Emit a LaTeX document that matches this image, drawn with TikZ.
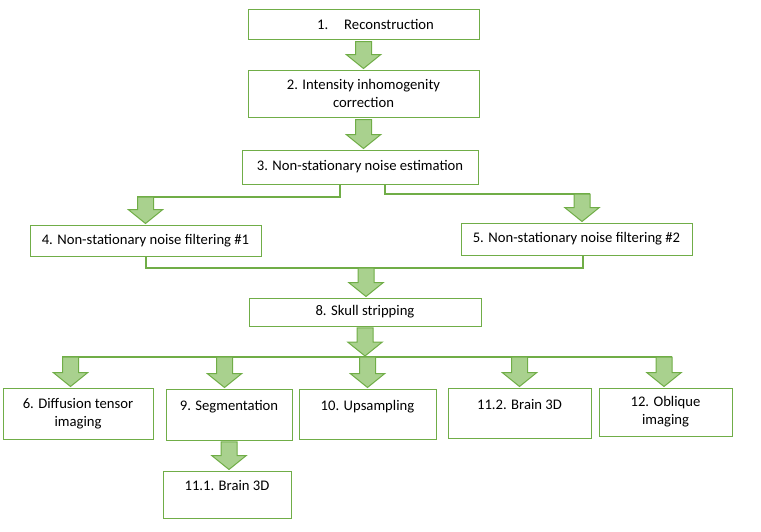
\documentclass[tikz,border=0pt]{standalone}
\usepackage{fontspec}
\setmainfont{Carlito}
\usetikzlibrary{calc}
\definecolor{wdGreen}{HTML}{70AD47}
\definecolor{wdLight}{HTML}{A9D18E}
\tikzset{
  stage/.style={draw=wdGreen,line width=.75pt,fill=white,align=center,inner sep=2pt,
    text=black,font=\fontsize{11}{13.5}\selectfont},
  wire/.style={draw=wdGreen,line width=1.5pt},
  fatarrow/.style={draw=wdGreen,line width=.75pt,fill=wdLight,line join=miter},
}
\newcommand{\bigarrow}[2]{%
  \path[fatarrow] let \p1=#1, \p2=#2 in
    (\x1-6pt,\y1) -- (\x1+6pt,\y1) -- (\x1+6pt,\y2+11.25pt) -- (\x1+13pt,\y2+11.25pt)
    -- (\x1,\y2+.75pt) -- (\x1-13pt,\y2+11.25pt) -- (\x1-6pt,\y2+11.25pt) -- cycle;}

\begin{document}
\begin{tikzpicture}[x=.75pt,y=-.75pt]
  \useasboundingbox (0,0) rectangle (761,532);
  \node[stage,minimum width=173.25pt,minimum height=22.5pt] (recon) at (363.5,24)
    {\hspace*{18pt}1.\hspace{12pt}Reconstruction};
  \node[stage,minimum width=173.25pt,minimum height=35.25pt] (inhom) at (363.5,93.5)
    {2. Intensity inhomogenity\\correction};
  \node[stage,minimum width=177pt,minimum height=25.5pt] (estim) at (360,167)
    {3. Non-stationary noise estimation};
  \node[stage,minimum width=173.25pt,minimum height=23.25pt] (filtA) at (145.5,240.5)
    {4. Non-stationary noise filtering \#1};
  \node[stage,minimum width=173.25pt,minimum height=24pt] (filtB) at (576.5,239)
    {5. Non-stationary noise filtering \#2};
  \node[stage,minimum width=174pt,minimum height=21pt] (skull) at (365,312)
    {8. Skull stripping};
  \node[stage,minimum width=112.5pt,minimum height=38.25pt] (dti) at (78,413.5)
    {6. Diffusion tensor\\imaging};
  \node[stage,minimum width=94.5pt,minimum height=38.25pt] (segm) at (229,414.5)
    {9. Segmentation\\\mbox{}};
  \node[stage,minimum width=102.75pt,minimum height=37.5pt] (upsam) at (367.5,414)
    {10. Upsampling\\\mbox{}};
  \node[stage,minimum width=107.25pt,minimum height=37.5pt] (brainB) at (519.5,413)
    {11.2. Brain 3D\\\mbox{}};
  \node[stage,minimum width=99.75pt,minimum height=36pt] (obliq) at (665.5,412)
    {12. Oblique\\imaging};
  \node[stage,minimum width=96pt,minimum height=35.25pt] (brainA) at (227,494.5)
    {11.1. Brain 3D\\\mbox{}};
  \coordinate (tapA) at (137,197);
  \coordinate (tapB) at (590,194);
  \coordinate (dropB) at (582,194);
  \coordinate (merge) at (366,268);
  \coordinate (busL) at (62,357);
  \coordinate (busR) at (672,357);
  \coordinate (tapDti) at (70.5,357);
  \coordinate (tapSegm) at (224.5,357);
  \coordinate (tapUpsam) at (367.5,357);
  \coordinate (tapBrain) at (519.5,357);
  \coordinate (tapObliq) at (664,357);
  \draw[wire] ([xshift=-15pt]estim.south) |- (tapA);
  \draw[wire] ([xshift=18.75pt]estim.south) |- (tapB);
  \draw[wire] (filtA.south) |- (merge);
  \draw[wire] ([xshift=4.9pt]filtB.south) |- (merge);
  \draw[wire] (busL) -- (busR);
  \bigarrow{([yshift=-1.5pt]recon.south)}{(inhom.north)}
  \bigarrow{([yshift=-1.5pt]inhom.south)}{(estim.north)}
  \bigarrow{(filtA.north |- tapA)}{(filtA.north)}
  \bigarrow{(dropB)}{(filtB.north)}
  \bigarrow{(merge)}{(skull.north)}
  \bigarrow{([yshift=-1pt]skull.south)}{(busL)}
  \bigarrow{(tapDti)}{(dti.north)}
  \bigarrow{(tapSegm)}{(segm.north)}
  \bigarrow{(tapUpsam)}{(upsam.north)}
  \bigarrow{(tapBrain)}{(brainB.north)}
  \bigarrow{(tapObliq)}{(obliq.north)}
  \bigarrow{([yshift=-1pt]segm.south)}{(brainA.north)}
\end{tikzpicture}
\end{document}
